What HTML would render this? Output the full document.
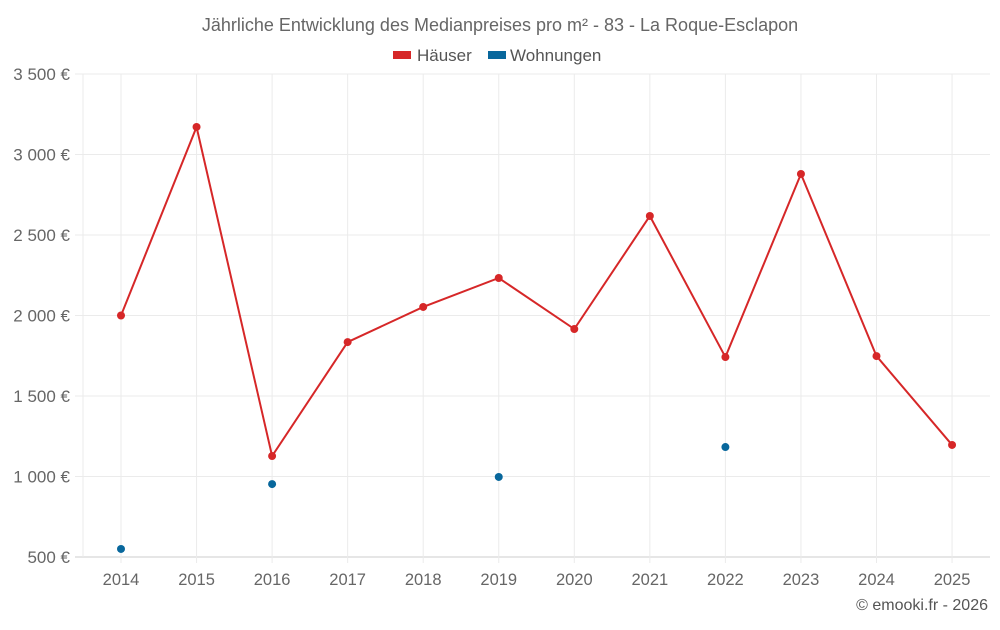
<!DOCTYPE html>
<html><head><meta charset="utf-8"><style>
body{margin:0;background:#fff;font-family:"Liberation Sans",sans-serif}
svg text{font-family:"Liberation Sans",sans-serif}
</style></head><body>
<svg id="c" width="1000" height="625">
<text x="500" y="31" text-anchor="middle" font-size="18" fill="#666">Jährliche Entwicklung des Medianpreises pro m² - 83 - La Roque-Esclapon</text>
<g><rect x="393" y="51" width="18" height="8" fill="#d62728"/><text x="417" y="61" font-size="17" fill="#555">Häuser</text></g>
<g><rect x="488" y="51" width="18" height="8" fill="#08679c"/><text x="510" y="61" font-size="17" fill="#555">Wohnungen</text></g>
<text x="988" y="610" text-anchor="end" font-size="16" fill="#555">© emooki.fr - 2026</text>
<g id="plot"></g>
</svg>
<script>
const years=['2014','2015','2016','2017','2018','2019','2020','2021','2022','2023','2024','2025'];
const houses=[2000,3171,1127,1835,2053,2233,1916,2618,1742,2879,1748,1196];
const apartments=[550,null,953,null,null,997,null,null,1183,null,null,null];
const yTicks=[500,1000,1500,2000,2500,3000,3500];
const yLabels=['500 €','1 000 €','1 500 €','2 000 €','2 500 €','3 000 €','3 500 €'];
const L=83,R=990,T=74,B=557,x0=121,step=75.55;
const X=i=>x0+i*step, Y=v=>B-(v-500)/3000*(B-T);
const g=document.getElementById('plot'),NS='http://www.w3.org/2000/svg';
function mk(t,a){const e=document.createElementNS(NS,t);for(const k in a)e.setAttribute(k,a[k]);g.appendChild(e);return e;}
yTicks.forEach((v,i)=>{
 const l=mk('line',{x1:75,x2:R,y1:Y(v),y2:Y(v),stroke:i==0?'#ccc':'#ebebeb'});
 
 
 const t=mk('text',{x:70,y:Y(v)+6,'text-anchor':'end','font-size':'17',fill:'#666'});
 t.textContent=yLabels[i];
 
 
});
const lv=mk('line',{x1:L,x2:L,y1:T,y2:B,stroke:'#ebebeb'});


years.forEach((y,i)=>{
 const l=mk('line',{x1:X(i),x2:X(i),y1:T,y2:B+6,stroke:'#ebebeb'});
 
 
 const t=mk('text',{x:X(i),y:585,'text-anchor':'middle','font-size':'16.5',fill:'#666'});
 t.textContent=y;
 
 
});
const p=mk('polyline',{points:houses.map((v,i)=>X(i)+','+Y(v)).join(' '),fill:'none',stroke:'#d62728','stroke-width':2});


houses.forEach((v,i)=>{
 const c=mk('circle',{cx:X(i),cy:Y(v),r:4,fill:'#d62728'});
 
 
});
apartments.forEach((v,i)=>{if(v==null)return;
 const c=mk('circle',{cx:X(i),cy:Y(v),r:4,fill:'#08679c'});
 
 
});
</script>
</body></html>
